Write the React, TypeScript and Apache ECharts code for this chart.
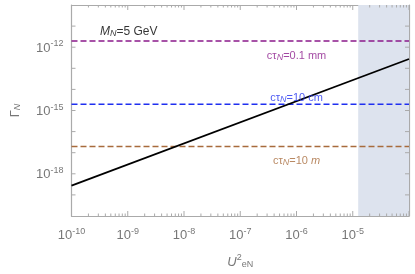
import React, { useEffect, useRef } from "react";
import * as echarts from "echarts";

// ---- data ----
const xLimits = [1e-10, 1e-4];
const yLimits = [1e-20, 1e-10];
const xLabelValues = [1e-10, 1e-9, 1e-8, 1e-7, 1e-6, 1e-5];
const yLabelValues = [1e-18, 1e-15, 1e-12];
const xMajorTicks = [1e-10, 1e-9, 1e-8, 1e-7, 1e-6, 1e-5, 1e-4];
const yMajorTicks = [1e-19, 1e-18, 1e-17, 1e-16, 1e-15, 1e-14, 1e-13, 1e-12, 1e-11];
const minorMultipliers = [2, 3, 4, 5, 6, 7, 8, 9];
const xDecades = [-10, -9, -8, -7, -6, -5];

// decay width curve (Γ_N vs U²_eN)
const curveU2 = [1e-10, 1e-4];
const curveGamma = [2.75e-19, 2.75e-13];

// lifetime reference lines
const lifetimeNames = ["0.1 mm", "10 cm", "10 m"];
const lifetimeGamma = [1.97e-12, 1.97e-15, 1.97e-17];
const lifetimeColors = ["#8b1a8b", "#1f2ff0", "#a86b3c"];
const lifetimeLabelX = [1e-6, 1e-6, 1e-6];
const lifetimeLabelY = [4.1e-13, 4.5e-15, 4.5e-18];

// excluded region
const shadedFrom = 1.25e-5;
const shadedTo = 1e-4;

// mass annotation
const massLabelPos = [3.2e-10, 6e-12];

const xMinorTicks: number[] = [];
xDecades.forEach((d) => minorMultipliers.forEach((m) => xMinorTicks.push(m * Math.pow(10, d))));

const FONT = "Liberation Sans";
const GRAY = "#777";
const AXIS_COLOR = "#aaa";

const expFmt = (v: number) => `{b|10}{s|${Math.round(Math.log10(v))}}`;
const tickRich = {
  b: { fontSize: 13, color: GRAY, fontFamily: FONT },
  s: { fontSize: 9, color: GRAY, fontFamily: FONT, padding: [0, 0, 8, 0] },
};

export default function App() {
  const ref = useRef<HTMLDivElement>(null);
  useEffect(() => {
    if (!ref.current) return;
    const chart = echarts.init(ref.current, null, { renderer: "svg" });

    const tickLine = (x1: number, y1: number, x2: number, y2: number) => ({
      type: "line",
      shape: { x1, y1, x2, y2 },
      style: { stroke: AXIS_COLOR, lineWidth: 1 },
    });

    const xTickSeries = (values: number[], len: number) => ({
      type: "custom",
      xAxisIndex: 0,
      yAxisIndex: 0,
      silent: true,
      clip: false,
      z: 6,
      data: values.map((v) => [v, yLimits[0]]),
      renderItem: (params: any, api: any) => {
        const v = api.value(0);
        const b = api.coord([v, yLimits[0]]);
        const t = api.coord([v, yLimits[1]]);
        return {
          type: "group",
          children: [tickLine(b[0], b[1], b[0], b[1] - len), tickLine(t[0], t[1], t[0], t[1] + len)],
        };
      },
    });

    const yTickSeries = (values: number[], len: number) => ({
      type: "custom",
      xAxisIndex: 0,
      yAxisIndex: 0,
      silent: true,
      clip: false,
      z: 6,
      data: values.map((v) => [xLimits[0], v]),
      renderItem: (params: any, api: any) => {
        const v = api.value(1);
        const l = api.coord([xLimits[0], v]);
        const r = api.coord([xLimits[1], v]);
        return {
          type: "group",
          children: [tickLine(l[0], l[1], l[0] + len, l[1]), tickLine(r[0], r[1], r[0] - len, r[1])],
        };
      },
    });

    const baseX = (extra: any) => ({
      type: "log",
      logBase: 10,
      min: xLimits[0],
      max: xLimits[1],
      splitLine: { show: false },
      axisTick: { show: false },
      ...extra,
    });
    const baseY = (extra: any) => ({
      type: "log",
      logBase: 10,
      min: yLimits[0],
      max: yLimits[1],
      splitLine: { show: false },
      axisTick: { show: false },
      ...extra,
    });

    const lineSeries = lifetimeGamma.map((g, i) => ({
      type: "line",
      xAxisIndex: 0,
      yAxisIndex: 0,
      data: [
        [xLimits[0], g],
        [xLimits[1], g],
      ],
      showSymbol: false,
      symbol: "none",
      lineStyle: { color: lifetimeColors[i], width: 1.6, type: [6, 3] },
      z: 3,
    }));

    const labelSeries = lifetimeGamma.map((g, i) => {
      const nm = lifetimeNames[i];
      const parts = nm.split(" ");
      const unitStyle = parts[1] === "m" ? "ui" : "u";
      return {
        type: "scatter",
        xAxisIndex: 0,
        yAxisIndex: 0,
        symbolSize: 0,
        data: [[lifetimeLabelX[i], lifetimeLabelY[i]]],
        label: {
          show: true,
          position: "inside",
          formatter: `{t|cτ}{n|N}{t|=${parts[0]} }{${unitStyle}|${parts[1]}}`,
          rich: {
            t: { fontSize: 11, color: lifetimeColors[i], fontFamily: FONT },
            u: { fontSize: 11, color: lifetimeColors[i], fontFamily: FONT },
            ui: { fontSize: 11, color: lifetimeColors[i], fontFamily: FONT, fontStyle: "italic" },
            n: { fontSize: 9, color: lifetimeColors[i], fontFamily: FONT, fontStyle: "italic", padding: [4, 0, 0, 0] },
          },
        },
        z: 5,
      };
    });

    chart.setOption({
      animation: false,
      grid: { left: 68, top: 5, right: 6, bottom: 58 },
      xAxis: [
        baseX({
          position: "bottom",
          axisLine: { show: true, lineStyle: { color: AXIS_COLOR, width: 1.2 } },
          axisLabel: {
            customValues: xLabelValues,
            formatter: expFmt,
            rich: tickRich,
            margin: 10,
          },
          name: "{u|U}{sup|2}{sub|eN}",
          nameLocation: "middle",
          nameGap: 36,
          nameTextStyle: {
            rich: {
              u: { fontSize: 13, color: GRAY, fontFamily: FONT, fontStyle: "italic" },
              sup: { fontSize: 9, color: GRAY, fontFamily: FONT, padding: [0, 0, 9, 0] },
              sub: { fontSize: 9, color: GRAY, fontFamily: FONT, padding: [6, 0, 0, 0] },
            },
          },
        }),
        baseX({
          position: "top",
          axisLine: { show: true, lineStyle: { color: AXIS_COLOR, width: 1.2 } },
          axisLabel: { show: false },
        }),
      ],
      yAxis: [
        baseY({
          position: "left",
          axisLine: { show: true, lineStyle: { color: AXIS_COLOR, width: 1.2 } },
          axisLabel: {
            customValues: yLabelValues,
            formatter: expFmt,
            rich: tickRich,
            margin: 8,
          },
          name: "{g|Γ}{n|N}",
          nameLocation: "middle",
          nameGap: 50,
          nameRotate: 90,
          nameTextStyle: {
            rich: {
              g: { fontSize: 13, color: GRAY, fontFamily: FONT },
              n: { fontSize: 9, color: GRAY, fontFamily: FONT, fontStyle: "italic", padding: [5, 0, 0, 0] },
            },
          },
        }),
        baseY({
          position: "right",
          axisLine: { show: true, lineStyle: { color: AXIS_COLOR, width: 1.2 } },
          axisLabel: { show: false },
        }),
      ],
      series: [
        {
          type: "line",
          xAxisIndex: 0,
          yAxisIndex: 0,
          data: [],
          markArea: {
            silent: true,
            itemStyle: { color: "#dde3ee" },
            data: [[{ xAxis: shadedFrom }, { xAxis: shadedTo }]],
          },
          z: 1,
        },
        ...lineSeries,
        {
          type: "line",
          xAxisIndex: 0,
          yAxisIndex: 0,
          data: curveU2.map((u, i) => [u, curveGamma[i]]),
          showSymbol: false,
          symbol: "none",
          lineStyle: { color: "#000", width: 1.8 },
          z: 4,
        },
        ...labelSeries,
        {
          type: "scatter",
          xAxisIndex: 0,
          yAxisIndex: 0,
          symbolSize: 0,
          data: [massLabelPos],
          label: {
            show: true,
            position: "right",
            distance: 0,
            formatter: "{m|M}{n|N}{t|=5 GeV}",
            rich: {
              m: { fontSize: 12, color: "#000", fontFamily: FONT, fontStyle: "italic" },
              n: { fontSize: 9, color: "#000", fontFamily: FONT, fontStyle: "italic", padding: [5, 0, 0, 0] },
              t: { fontSize: 12, color: "#000", fontFamily: FONT },
            },
          },
          z: 5,
        },
        xTickSeries(xMajorTicks, 5),
        xTickSeries(xMinorTicks, 2.5),
        yTickSeries(yMajorTicks, 4),
      ],
    });
    return () => chart.dispose();
  }, []);
  return <div ref={ref} style={{ position: "fixed", left: 0, top: 0, width: 415, height: 274 }} />;
}
